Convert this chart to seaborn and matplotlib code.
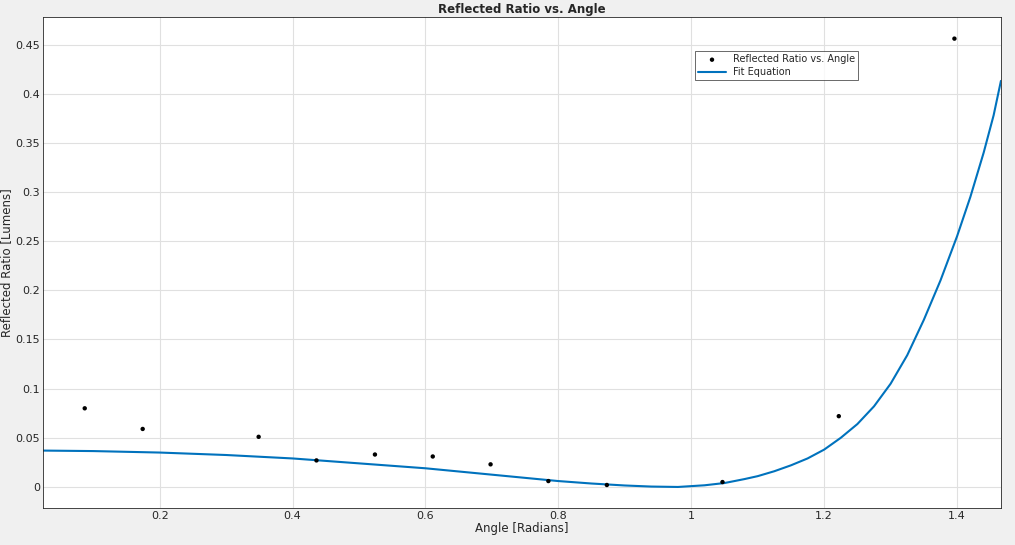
import numpy as np
import pandas as pd
import matplotlib
matplotlib.use("Agg")
import matplotlib.pyplot as plt
import seaborn as sns

# measured points
angle = [0.0873, 0.1745, 0.349, 0.436, 0.524, 0.611, 0.698, 0.785, 0.873, 1.047, 1.222, 1.396]
ratio = [0.080, 0.059, 0.051, 0.027, 0.033, 0.031, 0.023, 0.006, 0.002, 0.005, 0.072, 0.456]

# fit curve
fit_x = [0.0245, 0.1, 0.2, 0.3, 0.4, 0.5, 0.6, 0.7, 0.8, 0.85, 0.9, 0.94, 0.98, 1.02, 1.05,
         1.08, 1.1, 1.125, 1.15, 1.175, 1.2, 1.225, 1.25, 1.275, 1.3, 1.325, 1.35, 1.375,
         1.4, 1.42, 1.44, 1.455, 1.466]
fit_y = [0.037, 0.0365, 0.035, 0.0325, 0.029, 0.024, 0.019, 0.0125, 0.006, 0.0035, 0.0015,
         0.0004, 0.0, 0.0017, 0.004, 0.008, 0.011, 0.016, 0.022, 0.029, 0.038, 0.05, 0.064,
         0.082, 0.105, 0.134, 0.17, 0.21, 0.255, 0.295, 0.34, 0.378, 0.413]

pts = pd.DataFrame({"x": angle, "y": ratio})
fit = pd.DataFrame({"x": fit_x, "y": fit_y})

sns.set_style("whitegrid")
plt.rcParams['font.family'] = ['DejaVu Sans']
fig = plt.figure(figsize=(10.15, 5.45), dpi=100, facecolor="#f0f0f0")
ax = fig.add_axes([43 / 1015, 37 / 545, 958 / 1015, 491 / 545])
ax.set_facecolor("white")

sns.scatterplot(x="x", y="y", data=pts, ax=ax, color="black", s=10, edgecolor="none",
                label="Reflected Ratio vs. Angle", zorder=3)
sns.lineplot(x="x", y="y", data=fit, ax=ax, color="#0072bd", linewidth=1.5,
             label="Fit Equation", sort=True, zorder=2)

ax.set_xlim(0.0245, 1.4661)
ax.set_ylim(-0.0214, 0.478)
ax.set_xticks([0.2, 0.4, 0.6, 0.8, 1.0, 1.2, 1.4])
ax.set_xticklabels(["0.2", "0.4", "0.6", "0.8", "1", "1.2", "1.4"])
ax.set_yticks([0, 0.05, 0.1, 0.15, 0.2, 0.25, 0.3, 0.35, 0.4, 0.45])
ax.set_yticklabels(["0", "0.05", "0.1", "0.15", "0.2", "0.25", "0.3", "0.35", "0.4", "0.45"])
ax.tick_params(labelsize=8, length=3, direction="in", pad=2)
ax.grid(True, color="#e0e0e0", linewidth=0.8)
for s in ax.spines.values():
    s.set_color("#262626")
    s.set_linewidth(0.6)
ax.set_xlabel("Angle [Radians]", fontsize=8.5, labelpad=1)
ax.set_ylabel("Reflected Ratio [Lumens]", fontsize=8.5, labelpad=2)
ax.set_title("Reflected Ratio vs. Angle", fontsize=8.5, fontweight="bold", pad=3)
leg = ax.legend(loc="upper left", bbox_to_anchor=(0.676, 0.94), fontsize=7, frameon=True,
                fancybox=False, edgecolor="#262626", borderpad=0.3, handlelength=2.8,
                labelspacing=0.3)
leg.get_frame().set_linewidth(0.6)

fig.savefig("out.png", dpi=100, facecolor=fig.get_facecolor())
